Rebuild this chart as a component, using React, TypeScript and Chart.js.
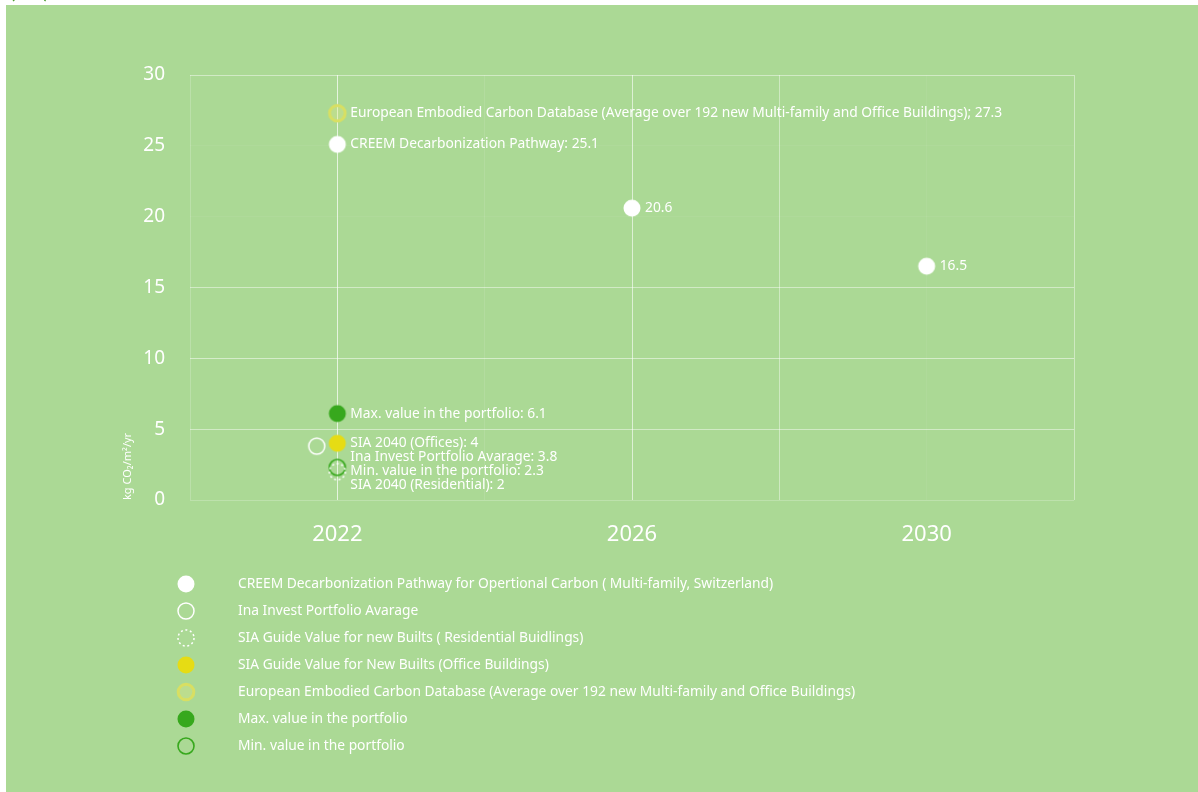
import React, { useEffect, useRef } from 'react';
import { Chart, registerables } from 'chart.js';

Chart.register(...registerables);

// ---------- data ----------
const years = ['2022', '2026', '2030'];
const creemPathway = [25.1, 20.6, 16.5];
const inaInvestAverage = [3.8];
const siaResidential = [2];
const siaOffices = [4];
const europeanDatabase = [27.3];
const portfolioMax = [6.1];
const portfolioMin = [2.3];
const yTickValues = [0, 5, 10, 15, 20, 25, 30];

const legendNames = [
  'CREEM Decarbonization Pathway for Opertional Carbon ( Multi-family, Switzerland)',
  'Ina Invest Portfolio Avarage',
  'SIA Guide Value for new Builts ( Residential Buidlings)',
  'SIA Guide Value for New Builts (Office Buildings)',
  'European Embodied Carbon Database (Average over 192 new Multi-family and Office Buildings)',
  'Max. value in the portfolio',
  'Min. value in the portfolio',
];
const pointLabelPrefixes = [
  'CREEM Decarbonization Pathway: ',
  'Ina Invest Portfolio Avarage: ',
  'SIA 2040 (Residential): ',
  'SIA 2040 (Offices): ',
  'European Embodied Carbon Database (Average over 192 new Multi-family and Office Buildings); ',
  'Max. value in the portfolio: ',
  'Min. value in the portfolio: ',
];
const axisTitle = 'kg CO\u2082/m\u00b2/yr';

// ---------- styles ----------
const BG = '#abd995';
const WHITE = '#ffffff';
const YELLOW = '#e6dc14';
const DARK_GREEN = '#37a81d';
const FONT = '"Noto Sans"';
const LABEL_SIZE = 13.8;

type Marker = { r: number; fill?: string; stroke?: string; lw?: number; dash?: number[] };
const markers: Marker[] = [
  { r: 8.5, fill: WHITE },
  { r: 8, stroke: WHITE, lw: 1.5 },
  { r: 8, stroke: WHITE, lw: 1.5, dash: [2, 2.6] },
  { r: 8.5, fill: YELLOW },
  { r: 7.8, stroke: '#d8df62', lw: 3, fill: 'rgba(222,228,130,0.35)' },
  { r: 8.5, fill: DARK_GREEN },
  { r: 8, stroke: DARK_GREEN, lw: 1.6 },
];

function makeMarkerCanvas(m: Marker): HTMLCanvasElement {
  const size = 22;
  const c = document.createElement('canvas');
  c.width = size;
  c.height = size;
  const g = c.getContext('2d')!;
  g.beginPath();
  g.arc(size / 2, size / 2, m.r, 0, Math.PI * 2);
  if (m.fill) {
    g.fillStyle = m.fill;
    g.fill();
  }
  if (m.stroke) {
    g.strokeStyle = m.stroke;
    g.lineWidth = m.lw || 1;
    if (m.dash) g.setLineDash(m.dash);
    g.stroke();
  }
  return c;
}

const slotOf = (yearIndex: number) => yearIndex * 2 + 1;
const inaDodge = -0.14;

const yGridAlpha: Record<number, number> = { 0: 0.22, 5: 0.45, 10: 0.5, 15: 0.45, 20: 0.05, 25: 0.05, 30: 0.45 };
const xGridAlpha: Record<number, number> = { 0: 0.2, 1: 0.7, 2: 0.1, 3: 0.6, 4: 0.42, 5: 0.05, 6: 0.42 };

const pointLabelPlugin = {
  id: 'pointLabels',
  afterDatasetsDraw(chart: any) {
    const ctx = chart.ctx;
    const xs = chart.scales.x;
    const cols: Record<string, { x: number; y: number; text: string }[]> = {};
    chart.data.datasets.forEach((ds: any, di: number) => {
      const meta = chart.getDatasetMeta(di);
      ds.data.forEach((pt: any, i: number) => {
        const el = meta.data[i];
        const key = String(pt.slot);
        (cols[key] = cols[key] || []).push({
          x: xs.getPixelForValue(pt.slot) + 13,
          y: el.y,
          text: ds.pointLabels[i],
        });
      });
    });
    ctx.save();
    ctx.font = `${LABEL_SIZE}px ${FONT}`;
    ctx.fillStyle = WHITE;
    ctx.textAlign = 'left';
    ctx.textBaseline = 'middle';
    Object.values(cols).forEach((list) => {
      list.sort((a, b) => a.y - b.y);
      let prev = -Infinity;
      list.forEach((l) => {
        const y = Math.max(l.y, prev + 14);
        prev = y;
        ctx.fillText(l.text, l.x, y);
      });
    });
    ctx.restore();
  },
};

const customLegendPlugin = {
  id: 'customLegend',
  afterDraw(chart: any) {
    const ctx = chart.ctx;
    const area = chart.chartArea;
    ctx.save();
    ctx.font = `${LABEL_SIZE}px ${FONT}`;
    ctx.fillStyle = WHITE;
    ctx.textAlign = 'left';
    ctx.textBaseline = 'middle';
    chart.data.datasets.forEach((ds: any, i: number) => {
      const y = area.bottom + 84 + i * 27;
      const img = ds.pointStyle as HTMLCanvasElement;
      ctx.drawImage(img, area.left - 4 - img.width / 2, y - img.height / 2);
      ctx.fillText(ds.label, area.left + 48, y);
    });
    ctx.restore();
  },
};

export default function App() {
  const canvasRef = useRef<HTMLCanvasElement | null>(null);

  useEffect(() => {
    if (!canvasRef.current) return;
    const imgs = markers.map(makeMarkerCanvas);

    const single = (vals: number[], dodge = 0) =>
      vals.map((v, i) => ({ x: slotOf(i) + dodge, y: v, slot: slotOf(i) }));

    const seriesValues = [
      creemPathway,
      inaInvestAverage,
      siaResidential,
      siaOffices,
      europeanDatabase,
      portfolioMax,
      portfolioMin,
    ];

    const datasets = seriesValues.map((vals, si) => ({
      type: 'scatter' as const,
      label: legendNames[si],
      data: single(vals, si === 1 ? inaDodge : 0),
      pointStyle: imgs[si],
      pointRadius: 9,
      showLine: false,
      pointLabels: vals.map((v, i) =>
        si === 0 && i > 0 ? String(v) : pointLabelPrefixes[si] + String(v)
      ),
    }));

    const chart = new Chart(canvasRef.current, {
      type: 'scatter',
      data: { datasets: datasets as any },
      options: {
        animation: false,
        responsive: false,
        layout: { padding: { left: 110, right: 124, top: 70, bottom: 242 } },
        plugins: { legend: { display: false }, tooltip: { enabled: false } },
        scales: {
          x: {
            type: 'linear',
            min: 0,
            max: 6,
            afterFit: (s: any) => {
              s.height = 50;
            },
            afterBuildTicks: (s: any) => {
              s.ticks = [0, 1, 2, 3, 4, 5, 6].map((v) => ({ value: v }));
            },
            ticks: {
              color: WHITE,
              font: { family: FONT, size: 22 },
              padding: 22,
              autoSkip: false,
              maxRotation: 0,
              callback: (v: any) => (Number(v) % 2 === 1 ? years[(Number(v) - 1) / 2] : ''),
            },
            grid: {
              drawTicks: false,
              color: (c: any) => `rgba(255,255,255,${xGridAlpha[c.tick?.value] ?? 0.3})`,
            },
            border: { display: false },
          },
          y: {
            min: 0,
            max: 30,
            afterFit: (s: any) => {
              s.width = 74;
            },
            afterBuildTicks: (s: any) => {
              s.ticks = yTickValues.map((v) => ({ value: v }));
            },
            ticks: {
              color: WHITE,
              font: { family: FONT, size: 19 },
              padding: 25,
            },
            grid: {
              drawTicks: false,
              color: (c: any) => `rgba(255,255,255,${yGridAlpha[c.tick?.value] ?? 0.3})`,
            },
            border: { display: false },
            title: {
              display: true,
              text: axisTitle,
              align: 'start',
              color: WHITE,
              font: { family: FONT, size: 11 },
              padding: { top: 5, bottom: 0 },
            },
          },
        },
      },
      plugins: [pointLabelPlugin, customLegendPlugin],
    } as any);

    return () => chart.destroy();
  }, []);

  return (
    <>
      <div
        style={{
          position: 'fixed',
          left: 6,
          top: 5,
          width: 1192,
          height: 787,
          background: BG,
        }}
      >
        <canvas ref={canvasRef} width={1192} height={787} style={{ display: 'block' }} />
      </div>
      <div
        style={{
          position: 'fixed',
          left: 9,
          top: -25,
          fontFamily: 'Lato',
          fontSize: 24,
          color: '#4f9e34',
          lineHeight: 1.2,
          whiteSpace: 'nowrap',
        }}
      >
        (12)
      </div>
    </>
  );
}
